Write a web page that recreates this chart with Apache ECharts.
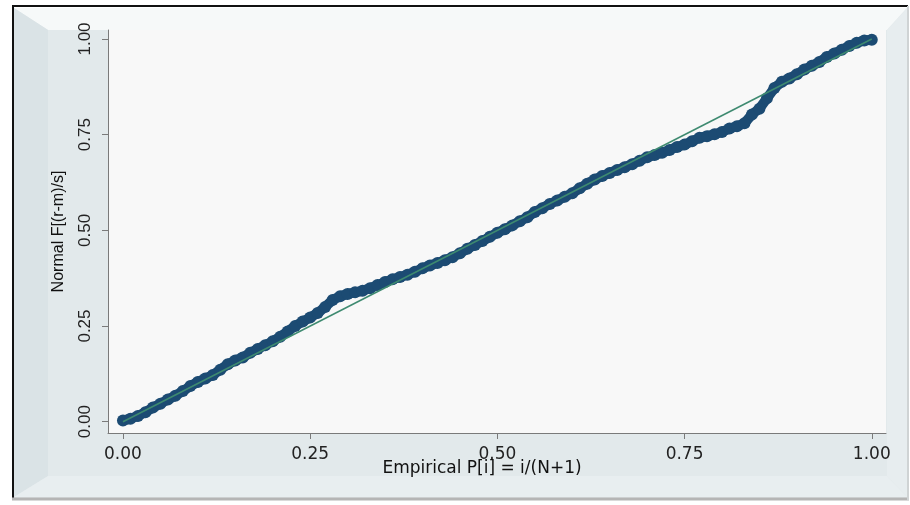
<!DOCTYPE html>
<html>
<head>
<meta charset="utf-8">
<script src="https://cdn.jsdelivr.net/npm/echarts@6/dist/echarts.min.js"></script>
<style>
  html, body { margin: 0; padding: 0; background: #ffffff; }
  #chart { width: 910px; height: 505px; }
</style>
</head>
<body>
<div id="chart"></div>
<script>
// Empirical cumulative probability of each residual
const empiricalP = [
  0.00, 0.01, 0.02, 0.03, 0.04, 0.05, 0.06, 0.07, 0.08, 0.09,
  0.10, 0.11, 0.12, 0.13, 0.14, 0.15, 0.16, 0.17, 0.18, 0.19,
  0.20, 0.21, 0.22, 0.23, 0.24, 0.25, 0.26, 0.27, 0.28, 0.29,
  0.30, 0.31, 0.32, 0.33, 0.34, 0.35, 0.36, 0.37, 0.38, 0.39,
  0.40, 0.41, 0.42, 0.43, 0.44, 0.45, 0.46, 0.47, 0.48, 0.49,
  0.50, 0.51, 0.52, 0.53, 0.54, 0.55, 0.56, 0.57, 0.58, 0.59,
  0.60, 0.61, 0.62, 0.63, 0.64, 0.65, 0.66, 0.67, 0.68, 0.69,
  0.70, 0.71, 0.72, 0.73, 0.74, 0.75, 0.76, 0.77, 0.78, 0.79,
  0.80, 0.81, 0.82, 0.83, 0.84, 0.85, 0.86, 0.87, 0.88, 0.89,
  0.90, 0.91, 0.92, 0.93, 0.94, 0.95, 0.96, 0.97, 0.98, 0.99,
  1.00
];

// Normal CDF of the standardised residual at each point
const normalF = [
  0.003, 0.008, 0.015, 0.025, 0.037, 0.047, 0.058, 0.068, 0.080, 0.093,
  0.104, 0.113, 0.122, 0.136, 0.150, 0.160, 0.168, 0.180, 0.190, 0.200,
  0.210, 0.222, 0.236, 0.250, 0.262, 0.272, 0.284, 0.300, 0.318, 0.328,
  0.334, 0.338, 0.342, 0.349, 0.357, 0.365, 0.372, 0.378, 0.384, 0.392,
  0.401, 0.408, 0.415, 0.422, 0.430, 0.440, 0.452, 0.462, 0.472, 0.483,
  0.494, 0.503, 0.513, 0.524, 0.534, 0.548, 0.558, 0.569, 0.578, 0.588,
  0.597, 0.610, 0.622, 0.633, 0.642, 0.650, 0.658, 0.665, 0.673, 0.682,
  0.691, 0.697, 0.703, 0.710, 0.718, 0.724, 0.733, 0.742, 0.746, 0.751,
  0.757, 0.766, 0.772, 0.780, 0.803, 0.818, 0.845, 0.872, 0.888, 0.897,
  0.908, 0.920, 0.930, 0.940, 0.953, 0.962, 0.972, 0.982, 0.990, 0.996,
  0.998
];

// 45-degree reference line
const refLineX = [0, 1];
const refLineY = [0, 1];

const tickValues = [0, 0.25, 0.5, 0.75, 1];
const xTitle = 'Empirical P[i] = i/(N+1)';
const yTitle = 'Normal F[(r-m)/s]';

const points = empiricalP.map((p, i) => [p, normalF[i]]);
const refLine = refLineX.map((x, i) => [x, refLineY[i]]);

const chart = echarts.init(document.getElementById('chart'), null, { renderer: 'canvas' });

const markerColor = '#1c4b73';
const frameZ = -100;
const option = {
  animation: false,
  backgroundColor: '#ffffff',
  grid: {
    left: 108, top: 30, width: 778, height: 403,
    show: true, backgroundColor: '#f8f8f8', borderWidth: 0
  },
  xAxis: {
    type: 'value', min: -0.02, max: 1.019,
    axisLine: { onZero: false, lineStyle: { color: '#7a7a7a', width: 1 } },
    axisTick: { show: true, length: 6, customValues: tickValues, lineStyle: { color: '#7a7a7a' } },
    axisLabel: {
      customValues: tickValues, margin: 13,
      formatter: v => v.toFixed(2),
      fontFamily: 'DejaVu Sans', fontSize: 17, color: '#222222'
    },
    splitLine: { show: false }
  },
  yAxis: {
    type: 'value', min: -0.0295, max: 1.0235,
    name: yTitle, nameLocation: 'middle', nameRotate: 90, nameGap: 41,
    nameTextStyle: { fontFamily: 'Liberation Sans', fontSize: 16, color: '#111111' },
    axisLine: { onZero: false, lineStyle: { color: '#7a7a7a', width: 1 } },
    axisTick: { show: true, length: 6, customValues: tickValues, lineStyle: { color: '#7a7a7a' } },
    axisLabel: {
      customValues: tickValues, margin: 14, rotate: 90,
      formatter: v => v.toFixed(2),
      fontFamily: 'Liberation Sans', fontSize: 17, color: '#222222'
    },
    splitLine: { show: false }
  },
  graphic: [
    // panel
    { type: 'rect', z: frameZ, shape: { x: 14, y: 8, width: 893, height: 490 },
      style: { fill: '#e2e9eb' } },
    // bevels
    { type: 'polygon', z: frameZ + 1, shape: { points: [[14, 8], [907, 8], [887, 30], [48, 30]] },
      style: { fill: '#f6f9f9' } },
    { type: 'polygon', z: frameZ + 1, shape: { points: [[14, 8], [48, 30], [48, 476], [14, 497]] },
      style: { fill: '#dae3e6' } },
    { type: 'polygon', z: frameZ + 1, shape: { points: [[907, 8], [907, 497], [887, 476], [887, 30]] },
      style: { fill: '#e7edef' } },
    { type: 'polygon', z: frameZ + 1, shape: { points: [[14, 497], [48, 476], [887, 476], [907, 497]] },
      style: { fill: '#e8eef0' } },
    // outer border
    { type: 'line', z: frameZ + 2, shape: { x1: 12, y1: 6, x2: 908, y2: 6 },
      style: { stroke: '#111111', lineWidth: 2 } },
    { type: 'line', z: frameZ + 2, shape: { x1: 13, y1: 5, x2: 13, y2: 500 },
      style: { stroke: '#111111', lineWidth: 2 } },
    { type: 'line', z: frameZ + 2, shape: { x1: 12, y1: 499, x2: 909, y2: 499 },
      style: { stroke: '#b5b5b5', lineWidth: 3 } },
    { type: 'line', z: frameZ + 2, shape: { x1: 908, y1: 6, x2: 908, y2: 500 },
      style: { stroke: '#cfd3d4', lineWidth: 2 } },
    // x axis title
    { type: 'text', z: 10, x: 482, y: 469,
      style: { text: xTitle, fontFamily: 'DejaVu Sans', fontSize: 17, fill: '#111111',
               align: 'center', verticalAlign: 'middle' } }
  ],
  series: [
    {
      // dense band joining consecutive observations
      type: 'line', data: points, showSymbol: false, symbol: 'none',
      lineStyle: { color: markerColor, width: 10, cap: 'round', join: 'round' },
      z: 1, silent: true
    },
    {
      type: 'scatter', data: points, symbol: 'circle', symbolSize: 12,
      itemStyle: { color: markerColor, opacity: 1 }, z: 2
    },
    {
      type: 'line', data: refLine, showSymbol: false, symbol: 'none',
      lineStyle: { color: '#3e8a70', width: 1.5 }, z: 3
    }
  ]
};

chart.setOption(option);
</script>
</body>
</html>
